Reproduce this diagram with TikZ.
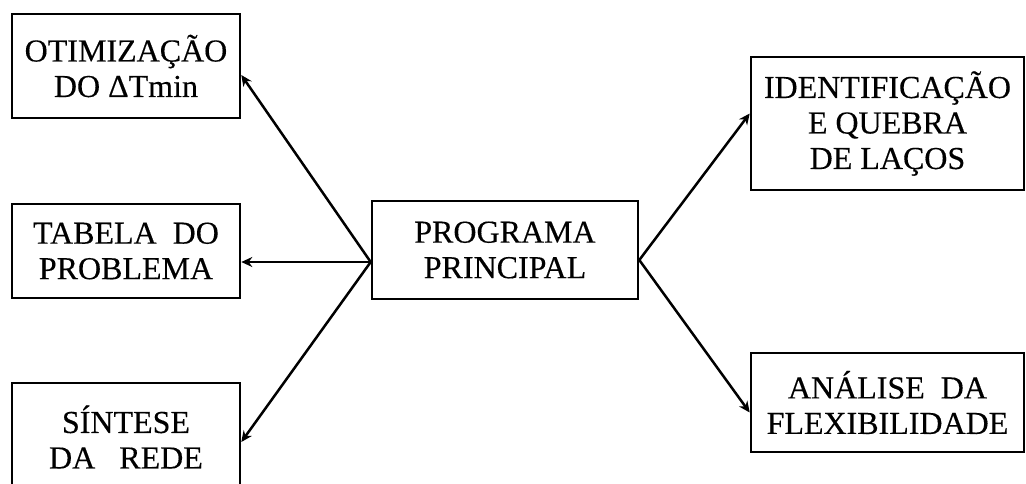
\documentclass[tikz,border=0pt]{standalone}
\usepackage{fontspec}
\setmainfont[FakeBold=0.3]{Liberation Serif}
\usetikzlibrary{arrows.meta}
\begin{document}
\begin{tikzpicture}[x=1pt,y=-1pt,
  box/.style={draw=black, line width=2.6pt, align=center, inner sep=0pt,
    font=\fontsize{32}{35.5}\selectfont},
  link/.style={line width=2.5pt, -{Stealth[length=11pt,width=10pt]}},
  thinlink/.style={line width=1.8pt, -{Stealth[length=11pt,width=10pt]}}]
\useasboundingbox (0,0) rectangle (1026,483);

% central module
\node[box, minimum width=266pt, minimum height=98pt] (prog) at (505,250)
  {PROGRAMA\\PRINCIPAL};

% modules on the left
\node[box, minimum width=228pt, minimum height=104pt] (otim) at (126,66)
  {OTIMIZAÇÃO\\DO ΔTmin};
\node[box, minimum width=228pt, minimum height=94pt] (tab) at (126,251)
  {TABELA\ \ DO\\PROBLEMA};
\node[box, minimum width=228pt, minimum height=108pt] (sint) at (126,437)
  {SÍNTESE\\DA\ \ \ REDE};

% modules on the right
\node[box, minimum width=273pt, minimum height=133pt] (laco) at (887.5,123.5)
  {IDENTIFICAÇÃO\\E QUEBRA\\DE LAÇOS};
\node[box, minimum width=273pt, minimum height=99pt] (flex) at (887.5,402.5)
  {ANÁLISE\ \ DA\\FLEXIBILIDADE};

% branching points on the central box
\coordinate (pl) at ([yshift=-12pt]prog.west);
\coordinate (pr) at ([yshift=-10pt]prog.east);

\draw[link] (pl) -- ([yshift=-9pt]otim.east);
\draw[thinlink] (pl) -- (pl -| tab.east);
\draw[link] (pl) -- ([yshift=-5pt]sint.east);
\draw[link] (pr) -- ([yshift=10pt]laco.west);
\draw[link] (pr) -- ([yshift=-10pt]flex.west);
\end{tikzpicture}
\end{document}
